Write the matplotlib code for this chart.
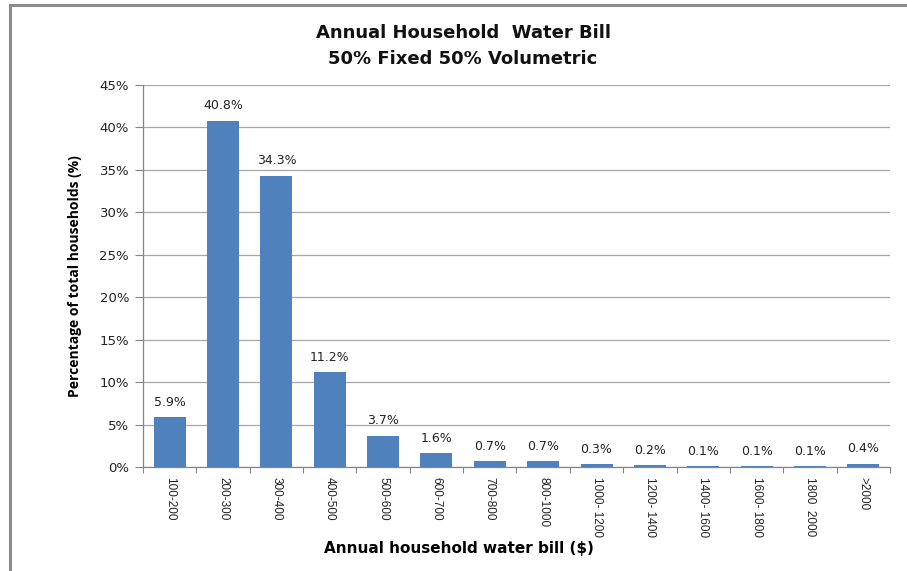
import matplotlib
matplotlib.use("Agg")
import matplotlib.pyplot as plt
from matplotlib.lines import Line2D
import numpy as np

categories = ["100-200", "200-300", "300-400", "400-500", "500-600", "600-700",
              "700-800", "800-1000", "1000- 1200", "1200- 1400", "1400- 1600",
              "1600- 1800", "1800  2000", ">2000"]
shares = [5.9, 40.8, 34.3, 11.2, 3.7, 1.6, 0.7, 0.7, 0.3, 0.2, 0.1, 0.1, 0.1, 0.4]
y_ticks = [0, 5, 10, 15, 20, 25, 30, 35, 40, 45]

plt.rcParams['font.family'] = ['DejaVu Sans']

fig = plt.figure(figsize=(9.07, 5.71), dpi=100)
ax = fig.add_axes([143 / 907, 1 - 467 / 571, 747 / 907, 382 / 571])

x = np.arange(len(categories))
ax.bar(x, shares, width=0.6, color="#4F81BD", zorder=3)

for xi, v in zip(x, shares):
    ax.annotate(f"{v:.1f}%", (xi, v), xytext=(0, 6), textcoords="offset points",
                ha="center", va="bottom", fontsize=9, color="#222222")

ax.set_xlim(-0.5, len(categories) - 0.5)
ax.set_ylim(0, 45)
ax.set_yticks(y_ticks)
ax.set_yticklabels([f"{t}%" for t in y_ticks], fontsize=9.5, color="#222222")
ax.yaxis.grid(True, color="#A6A6A6", linewidth=0.9, zorder=0)
ax.set_axisbelow(True)

ax.set_xticks(np.arange(len(categories) + 1) - 0.5, minor=False)
ax.set_xticklabels([])
ax.set_xticks(x, minor=True)
ax.set_xticklabels(categories, minor=True, rotation=270, fontsize=8.5,
                   family=['Liberation Sans Narrow', 'Liberation Sans', 'DejaVu Sans'],
                   va="top", ha="center", color="#222222")
ax.tick_params(axis="x", which="minor", length=0, pad=7)
ax.tick_params(axis="x", which="major", length=4, color="#868686", direction="out")
ax.tick_params(axis="y", length=6, color="#868686", direction="out", pad=4)

for side in ("top", "right"):
    ax.spines[side].set_visible(False)
for side in ("left", "bottom"):
    ax.spines[side].set_color("#868686")
    ax.spines[side].set_linewidth(0.9)

ax.set_ylabel("Percentage of total households (%)", fontsize=10, fontweight="bold",
              family=['Open Sans', 'DejaVu Sans'])
ax.yaxis.set_label_coords(-0.082, 0.5)
ax.set_xlabel("Annual household water bill ($)", fontsize=11, fontweight="bold")
ax.xaxis.label.set_va("center")
ax.xaxis.set_label_coords((459 - 143) / 747, (467 - 549) / 382)

fig.text(463 / 907, 1 - 33 / 571, "Annual Household  Water Bill", ha="center",
         va="center", fontsize=13, fontweight="bold", color="#111111")
fig.text(463 / 907, 1 - 59 / 571, "50% Fixed 50% Volumetric", ha="center",
         va="center", fontsize=13, fontweight="bold", color="#111111")

# outer frame
fig.add_artist(Line2D([9.5 / 907, 9.5 / 907], [0, 1 - 4.5 / 571],
                      transform=fig.transFigure, color="#8C8C8C", linewidth=2.2))
fig.add_artist(Line2D([9.5 / 907, 1], [1 - 4.5 / 571, 1 - 4.5 / 571],
                      transform=fig.transFigure, color="#8C8C8C", linewidth=2.2))

fig.savefig("out.png", dpi=100)
